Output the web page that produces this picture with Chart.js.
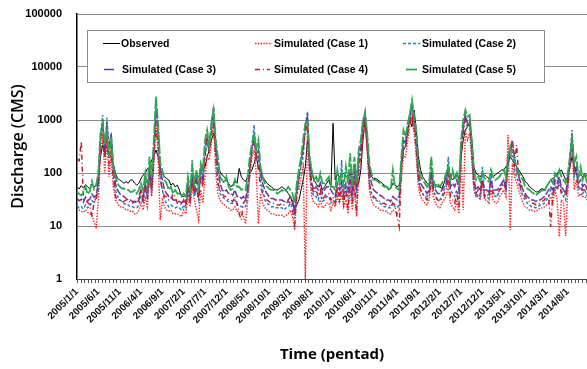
<!DOCTYPE html>
<html>
<head>
<meta charset="utf-8">
<script src="https://cdn.jsdelivr.net/npm/chart.js@4.4.0/dist/chart.umd.min.js"></script>
<style>
  html, body { margin: 0; padding: 0; background: #fff; }
  #wrap { width: 587px; height: 369px; }
</style>
</head>
<body>
<div id="wrap"><canvas id="grafico-vazao" width="587" height="369"></canvas></div>
<script>
// categories: two points per month (pentad 1 and 4), 2005-2014
const years = [2005, 2006, 2007, 2008, 2009, 2010, 2011, 2012, 2013, 2014];
const days = [1, 16];
const yTicks = [1, 10, 100, 1000, 10000, 100000];

// one line per year, 24 values each (CMS)
const observed = [
  55,50,58,52,60,55,50,62,55,58,92,203,338,272,314,235,203,152,99,79,74,69,64,69,
  64,74,74,64,59,64,79,92,99,122,131,176,203,272,203,114,99,85,79,74,59,64,55,59,
  48,36,36,38,48,55,74,64,79,85,106,131,131,203,272,420,560,314,152,106,92,85,74,64,
  55,59,74,64,122,85,74,69,85,99,114,152,203,131,114,85,74,64,59,55,51,48,48,51,
  55,51,48,41,36,27,20,25,31,48,74,131,420,203,99,74,64,55,64,48,55,64,74,55,
  865,74,99,85,92,99,85,92,99,92,99,85,64,114,420,1000,272,114,85,79,79,74,69,64,
  59,55,48,51,64,59,55,59,131,272,314,647,1000,748,1545,647,203,114,85,74,64,59,99,69,
  59,55,55,51,64,85,131,85,74,85,99,74,203,420,647,748,865,420,131,99,92,85,99,92,
  85,79,99,85,92,99,106,114,114,131,152,203,176,152,131,114,99,85,69,64,55,51,48,44,
  44,48,51,48,55,64,74,79,85,99,106,114,92,74,85,131,203,131,99,85,92,85,99,85
];
const case1 = [
  22,20,19,18,20,18,17,16,12,9,31,203,560,99,420,85,203,55,31,27,23,23,22,20,
  20,19,19,17,17,20,27,20,36,23,74,36,131,1000,203,13,31,23,20,19,20,17,17,17,
  16,15,20,17,36,23,55,31,20,13,48,27,85,203,176,363,1000,99,41,31,27,25,23,22,
  20,20,23,19,19,17,15,11,31,85,203,272,99,11,41,27,22,20,19,17,17,16,16,16,
  16,15,16,17,20,15,8.4,48,48,85,131,1,647,85,36,27,27,23,31,22,23,27,27,20,
  27,23,36,27,41,23,31,17,55,20,48,15,99,152,485,748,272,48,31,25,23,22,20,20,
  19,19,17,17,20,19,17,20,85,203,203,420,748,1156,560,203,55,36,31,27,25,31,64,36,
  27,23,22,27,31,36,55,27,23,20,31,17,203,20,647,420,560,176,48,36,36,31,64,31,
  31,27,48,31,27,27,36,41,48,36,521,8.4,152,85,64,48,36,27,23,22,20,20,19,19,
  20,22,22,23,25,27,36,27,48,31,6.3,31,27,6.5,48,152,363,48,74,36,41,36,36,31
];
const case2 = [
  24,22,23,21,25,22,23,30,28,35,48,420,1242,203,1100,314,485,99,48,36,31,29,27,25,
  25,23,23,22,22,25,36,27,55,31,114,41,203,1800,748,85,48,31,27,23,25,23,22,23,
  22,20,25,22,48,27,176,36,48,31,131,85,203,363,272,647,1785,235,74,41,36,33,31,29,
  27,27,31,25,25,23,23,23,36,99,272,805,176,203,74,48,31,27,25,23,23,22,22,22,
  22,20,22,23,27,23,17,36,74,131,203,748,1436,114,48,36,36,31,41,29,31,36,36,27,
  31,27,48,36,176,36,55,36,85,31,99,41,152,272,748,1156,420,64,41,33,31,29,27,25,
  23,23,22,22,27,23,22,25,131,314,420,748,1000,1785,865,314,74,48,41,36,36,41,99,48,
  36,31,31,36,48,55,203,48,41,36,48,31,272,647,1156,748,865,235,55,36,41,36,131,36,
  36,33,99,41,36,36,48,55,74,48,131,235,203,114,85,64,48,36,31,27,25,23,23,22,
  23,25,25,27,31,36,48,36,64,48,74,48,36,31,64,203,647,85,114,48,55,41,48,36
];
const case3 = [
  33,30,32,28,35,30,32,40,35,38,64,420,1000,203,865,272,560,131,64,48,41,38,36,33,
  31,31,29,29,27,31,48,36,64,41,114,55,272,1545,560,114,74,48,41,36,36,31,31,29,
  29,27,31,27,64,36,99,41,85,41,114,64,314,485,314,865,1660,314,131,64,48,44,48,41,
  41,38,48,36,36,33,36,31,55,131,314,420,203,272,99,64,48,41,36,33,33,31,31,31,
  31,29,29,31,36,31,20,48,99,176,272,748,1156,152,64,48,55,48,64,41,48,55,55,48,
  41,36,64,48,55,41,64,48,99,48,114,48,203,314,865,1436,485,99,64,48,44,41,38,36,
  33,31,31,29,36,33,31,36,152,420,363,748,1242,1918,1000,420,99,64,55,48,41,48,131,55,
  48,41,41,48,55,64,114,55,64,55,74,48,314,748,1242,865,1000,314,74,48,55,48,74,48,
  48,44,74,48,48,48,55,64,74,55,176,272,420,203,114,85,64,48,41,36,33,31,31,29,
  31,31,33,36,41,48,55,48,74,64,85,55,48,41,74,176,485,114,131,64,74,55,64,48
];
const case4 = [
  180,170,400,32,30,28,25,15,28,30,99,314,363,203,420,152,272,85,36,31,31,29,29,31,
  31,27,27,29,29,36,48,31,55,36,99,48,203,647,363,74,48,36,36,31,31,41,36,27,
  27,25,31,23,48,31,74,41,55,31,85,55,235,420,235,560,865,203,64,48,41,36,36,31,
  31,29,36,27,17,13,27,31,48,114,272,363,235,114,55,41,36,31,29,27,27,25,25,25,
  27,25,27,29,27,20,11,41,85,152,314,560,865,131,55,41,48,36,48,31,36,41,41,31,
  36,27,55,31,64,27,48,20,74,27,74,17,131,203,647,1000,363,64,41,36,33,31,29,27,
  27,25,25,23,27,25,15,9.7,114,272,314,560,865,1336,748,272,74,48,41,36,31,36,85,48,
  36,31,29,33,41,48,85,36,31,27,41,23,235,560,1000,748,865,272,64,41,48,41,74,36,
  41,36,55,41,41,38,48,51,64,48,203,203,363,152,338,85,48,41,36,31,29,27,27,25,
  25,27,29,31,36,36,9.7,41,55,48,64,41,41,36,55,152,420,99,99,55,55,48,48,41
];
const case5 = [
  45,40,38,42,55,40,45,70,50,60,99,560,865,363,647,203,485,131,85,64,55,51,51,48,
  48,44,44,48,41,48,64,48,99,55,203,85,420,2754,865,152,114,74,64,48,55,41,48,41,
  41,36,41,36,85,48,131,64,114,55,152,114,420,647,314,865,1545,420,203,85,74,64,85,55,
  48,51,74,55,55,48,51,48,85,203,363,560,272,420,131,85,64,55,51,48,48,44,41,44,
  48,44,48,55,48,41,27,64,114,203,420,865,1000,203,114,74,85,64,99,64,64,74,85,55,
  55,48,114,64,99,55,131,64,235,55,203,64,272,420,1000,1336,560,152,99,74,74,69,64,59,
  55,55,51,48,114,55,51,48,203,647,485,865,1336,2385,1156,647,152,85,74,64,55,64,203,74,
  55,64,55,64,74,99,131,74,114,74,99,64,420,1000,1545,1156,1242,420,114,74,85,69,99,79,
  74,69,114,85,74,79,85,99,114,85,203,314,235,176,131,99,85,74,55,51,48,44,41,38,
  41,44,48,44,55,64,74,64,99,85,114,85,74,64,99,203,420,152,203,85,131,74,99,64
];

const labels = [];
years.forEach((y) => {
  for (let m = 1; m <= 12; m++) days.forEach((d) => labels.push(`${y}/${m}/${d}`));
});
[observed, case1, case2, case3, case4, case5].forEach((s, i) => {
  if (s.length !== labels.length) throw new Error("serie " + i + " tem " + s.length);
});

const fonte = '"Liberation Sans", Arial, sans-serif';

// small tick marks every 5 pentads along the time axis
const marcasPlugin = {
  id: "marcas",
  afterDraw(chart) {
    const { ctx } = chart;
    const x = chart.scales.x;
    const base = chart.chartArea.bottom;
    const n = labels.length - 1;
    ctx.save();
    ctx.strokeStyle = "#555";
    ctx.lineWidth = 1;
    ctx.beginPath();
    for (let k = 0; (k * 5) / 3 <= n; k++) {
      const px = Math.round(x.getPixelForDecimal((k * 5) / 3 / n)) + 0.5;
      ctx.moveTo(px, base);
      ctx.lineTo(px, base + 4);
    }
    ctx.stroke();
    ctx.restore();
  },
};

// legend box laid out in 3 columns x 2 rows
const legendaPos = [
  { ds: 0, x: 103, y: 43, len: 17, tx: 121 },
  { ds: 1, x: 255, y: 43, len: 17, tx: 274 },
  { ds: 2, x: 403, y: 43, len: 17, tx: 422 },
  { ds: 3, x: 104, y: 69, len: 10, tx: 122, solid: true },
  { ds: 4, x: 255, y: 69, len: 15, tx: 274 },
  { ds: 5, x: 406, y: 69, len: 11, tx: 422, solid: true },
];
const legendaPlugin = {
  id: "legenda",
  afterDraw(chart) {
    const { ctx } = chart;
    ctx.save();
    ctx.fillStyle = "#fff";
    ctx.fillRect(87.5, 30.5, 457, 52);
    ctx.strokeStyle = "#8c8c8c";
    ctx.lineWidth = 1;
    ctx.strokeRect(87.5, 30.5, 457, 52);
    ctx.font = "bold 10.5px " + fonte;
    ctx.textBaseline = "middle";
    legendaPos.forEach((it) => {
      const ds = chart.data.datasets[it.ds];
      ctx.strokeStyle = ds.borderColor;
      ctx.lineWidth = ds.borderWidth;
      ctx.setLineDash(it.solid ? [] : ds.borderDash || []);
      ctx.beginPath();
      ctx.moveTo(it.x, it.y + 0.5);
      ctx.lineTo(it.x + it.len, it.y + 0.5);
      ctx.stroke();
      ctx.setLineDash([]);
      ctx.fillStyle = "#000";
      ctx.fillText(ds.label, it.tx, it.y + 1);
    });
    ctx.restore();
  },
};

const ctx = document.getElementById("grafico-vazao").getContext("2d");
new Chart(ctx, {
  type: "line",
  data: {
    labels: labels,
    datasets: [
      { label: "Observed", data: observed, borderColor: "#000000", borderWidth: 1, order: 6 },
      { label: "Simulated (Case 1)", data: case1, borderColor: "#FF1F1F", borderWidth: 1.4, borderDash: [1.4, 1.4], order: 5 },
      { label: "Simulated (Case 2)", data: case2, borderColor: "#2F7BC8", borderWidth: 1.5, borderDash: [3, 2], order: 4 },
      { label: "Simulated (Case 3)", data: case3, borderColor: "#7030A0", borderWidth: 1.5, borderDash: [7, 2], order: 3 },
      { label: "Simulated (Case 4)", data: case4, borderColor: "#C0202A", borderWidth: 1.5, borderDash: [5, 3, 1, 3], order: 2 },
      { label: "Simulated (Case 5)", data: case5, borderColor: "#2EA84E", borderWidth: 1.8, borderDash: [10, 2], order: 1 },
    ],
  },
  options: {
    responsive: false,
    animation: false,
    layout: { padding: { top: 14, right: 0, left: 0, bottom: 0 } },
    elements: { point: { radius: 0 }, line: { tension: 0 } },
    plugins: { legend: { display: false }, tooltip: { enabled: false } },
    scales: {
      x: {
        grid: { display: false, drawTicks: false },
        border: { display: true, color: "#404040", width: 1 },
        ticks: {
          autoSkip: false,
          minRotation: 45,
          maxRotation: 45,
          padding: 7,
          color: "#111",
          font: { family: fonte, size: 10, weight: "bold" },
          callback: (v, i) => (i % 10 === 0 ? labels[i] : ""),
        },
        title: {
          display: true,
          text: "Time (pentad)",
          color: "#000",
          font: { family: '"Open Sans", sans-serif', size: 15, weight: "bold" },
          padding: { top: 0, bottom: 5 },
        },
        afterFit: (s) => {
          s.height = 90;
          s.paddingLeft = 0;
          s.paddingRight = 0;
        },
      },
      y: {
        type: "logarithmic",
        min: 1,
        max: 100000,
        afterBuildTicks: (s) => { s.ticks = yTicks.map((v) => ({ value: v })); },
        grid: { color: "#8c8c8c", drawTicks: false },
        border: { color: "#000", width: 1.5 },
        ticks: {
          padding: 15,
          color: "#000",
          font: { family: fonte, size: 11, weight: "bold" },
          callback: (v) => String(v),
        },
        title: {
          display: true,
          text: "Discharge (CMS)",
          color: "#000",
          font: { family: '"Open Sans", sans-serif', size: 16, weight: "600" },
          padding: { top: 9, bottom: 0 },
        },
        afterFit: (s) => {
          s.width = 77;
          s.paddingTop = 0;
          s.paddingBottom = 0;
        },
      },
    },
  },
  plugins: [marcasPlugin, legendaPlugin],
});
</script>
</body>
</html>
